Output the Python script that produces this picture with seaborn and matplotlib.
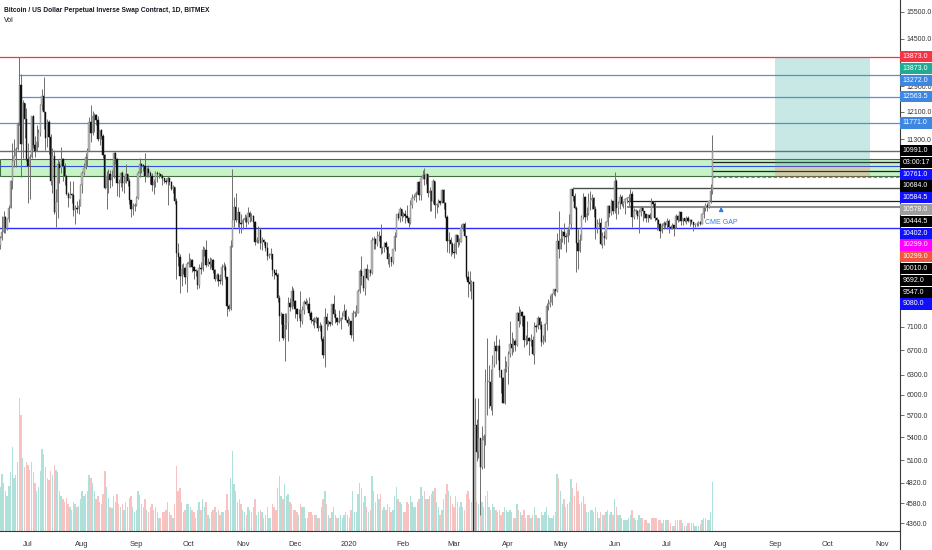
import matplotlib
matplotlib.use("Agg")
import matplotlib.pyplot as plt
import matplotlib.dates as mdates
from matplotlib.patches import Rectangle
from matplotlib.lines import Line2D
from matplotlib.ticker import FixedLocator, FormatStrFormatter, NullLocator
from matplotlib import font_manager
import numpy as np
import pandas as pd
import seaborn as sns

# ---- daily candles, XBTUSD 1D, from 2019-06-14 ----
START = "2019-06-14"
first_open = 8200

close_px = [
    8690, 8850, 8980, 9320, 9080, 9270, 9530, 10200, 10700, 10850, 11020, 11750, 12930, 11160, 12370, 11880, 10750,
    10590, 10810, 11970, 11150, 10980, 11240, 11480, 12300, 12570, 12100, 11350, 11800, 11360, 10200, 10850, 9430, 9680, 10630, 10530, 10760, 10590, 10330, 9880, 9770, 9880, 9840, 9480, 9530, 9500, 9590, 10080,
    10400, 10530, 10820, 10980, 11800, 11470, 11980, 11990, 11860, 11300, 11560, 11390, 10860, 10020, 10310, 10360, 10220, 10320, 10920, 10760, 10140, 10130, 10400, 10140, 10140, 10370, 10180, 9720, 9500, 9590, 9600,
    9760, 10390, 10620, 10590, 10580, 10320, 10490, 10400, 10330, 10100, 10160, 10400, 10360, 10360, 10310, 10270, 10190, 10160, 10280, 10170, 10000, 10050, 9700, 8530, 8430, 8060, 8190, 8210, 8040, 8300,
    8340, 8380, 8240, 8160, 8150, 7870, 8210, 8200, 8590, 8590, 8270, 8330, 8300, 8370, 8170, 8000, 8080, 7960, 7950, 8230, 8240, 8030, 7470, 7420, 8670, 9250, 9550, 9250, 9430, 9180, 9150,
    9260, 9300, 9200, 9410, 9310, 9340, 9200, 8770, 8810, 9030, 8730, 8810, 8760, 8630, 8460, 8490, 8500, 8180, 8120, 8080, 7620, 7290, 7320, 6910, 7130, 7160, 7530, 7450, 7760, 7570,
    7420, 7320, 7320, 7210, 7400, 7550, 7510, 7520, 7340, 7220, 7200, 7190, 7250, 7070, 7110, 6880, 6620, 7280, 7150, 7190, 7140, 7510, 7320, 7250, 7190, 7200, 7250, 7300, 7390, 7220, 7170,
    7200, 6960, 7340, 7350, 7350, 7760, 8160, 8050, 7820, 8190, 8020, 8180, 8110, 8810, 8820, 8720, 8900, 8900, 8630, 8630, 8730, 8660, 8390, 8430, 8330, 8600, 8900, 9390, 9290, 9500, 9350,
    9390, 9340, 9290, 9180, 9610, 9760, 9800, 9900, 10160, 9850, 10270, 10350, 10240, 10360, 9900, 9930, 9700, 10180, 9600, 9600, 9690, 9660, 9970, 9650, 9320, 8790, 8800, 8720, 8540,
    8530, 8920, 8760, 8760, 9070, 9160, 8900, 8040, 7940, 7900, 7940, 4250, 5560, 5200, 5390, 5010, 5360, 5410, 6190, 6190, 6190, 5830, 6470, 6770, 6690, 6760, 6370, 6250, 5880, 6400, 6420,
    6640, 6810, 6730, 6860, 6780, 7340, 7200, 7370, 7300, 6870, 6890, 6910, 6860, 6870, 6640, 7120, 7100, 7260, 7130, 6840, 6860, 7140, 7480, 7510, 7540, 7700, 7790, 7760, 8780, 8620,
    8830, 8970, 8900, 8880, 9030, 9150, 9990, 9810, 9540, 8730, 8560, 8810, 9310, 9790, 9320, 9380, 9680, 9730, 9780, 9510, 9060, 9170, 9180, 8720, 8900, 8840, 9200, 9580, 9420, 9700, 9450,
    10200, 9520, 9660, 9800, 9620, 9670, 9750, 9780, 9780, 9880, 9320, 9470, 9470, 9340, 9430, 9520, 9460, 9380, 9300, 9360, 9290, 9680, 9620, 9290, 9250, 9160, 9010, 9120, 9190, 9140,
    9230, 9090, 9060, 9130, 9080, 9340, 9250, 9430, 9240, 9290, 9240, 9300, 9240, 9250, 9200, 9130, 9150, 9170, 9210, 9160, 9390, 9540, 9600, 9550, 9710, 9930, 10991,
]

high_px = [
    8700, 8900, 9350, 9450, 9340, 9300, 9600, 10220, 11200, 11300, 11100, 11800, 13873, 13300, 12450, 12350, 12200,
    11200, 10900, 11980, 12000, 11400, 11700, 11600, 12350, 12800, 13200, 12100, 11900, 11850, 11450, 11050, 11000, 9980, 10750, 10700, 11080, 10800, 10650, 10340, 9920, 10180, 9900, 10180, 9600, 9700, 9750, 10120,
    10450, 10660, 10930, 11070, 11950, 12320, 12130, 12050, 12040, 11960, 11580, 11600, 11450, 10900, 10450, 10500, 10480, 10470, 10950, 10950, 10780, 10230, 10420, 10460, 10320, 10620, 10380, 10270, 9730, 9660, 9660,
    9820, 10440, 10800, 10650, 10630, 10920, 10550, 10600, 10450, 10390, 10250, 10450, 10440, 10420, 10380, 10370, 10280, 10270, 10320, 10280, 10180, 10090, 10050, 9770, 8740, 8500, 8290, 8320, 8230, 8330,
    8520, 8410, 8400, 8250, 8200, 8180, 8300, 8340, 8670, 8660, 8800, 8420, 8440, 8410, 8400, 8200, 8120, 8110, 8100, 8300, 8330, 8300, 8040, 7520, 8800, 10500, 9800, 9900, 9550, 9430, 9400,
    9290, 9380, 9370, 9550, 9450, 9420, 9370, 9220, 8870, 9110, 9060, 8880, 8830, 8770, 8760, 8530, 8640, 8500, 8200, 8200, 8120, 7680, 7360, 7330, 7350, 7350, 7650, 7620, 7860, 7820,
    7580, 7430, 7420, 7750, 7480, 7580, 7630, 7580, 7650, 7390, 7260, 7280, 7290, 7270, 7180, 7140, 6930, 7430, 7340, 7220, 7180, 7520, 7690, 7420, 7270, 7400, 7280, 7360, 7510, 7420, 7300,
    7250, 7210, 7400, 7390, 7500, 7800, 8200, 8460, 8060, 8200, 8290, 8190, 8190, 8880, 8900, 8840, 9000, 9000, 9170, 8660, 8770, 8780, 8670, 8520, 8440, 8610, 8980, 9400, 9430, 9560, 9510,
    9440, 9480, 9600, 9320, 9720, 9860, 9870, 9940, 10170, 10180, 10300, 10480, 10520, 10380, 10380, 10050, 9960, 10250, 10200, 9650, 9750, 9710, 9990, 10000, 9670, 9370, 8970, 8880, 8770,
    8740, 8940, 8920, 8840, 9150, 9180, 9200, 8900, 8160, 8150, 7970, 7960, 5950, 5650, 5950, 5380, 5550, 5440, 6400, 6900, 6450, 6400, 6620, 6850, 6950, 6790, 6880, 6280, 6260, 6600, 6520,
    6680, 7200, 7000, 6900, 6880, 7370, 7470, 7420, 7380, 7310, 6960, 7200, 6920, 6980, 6930, 7180, 7150, 7300, 7270, 7210, 6950, 7160, 7530, 7610, 7690, 7720, 7800, 7800, 8950, 9460,
    9050, 9000, 9190, 8950, 9100, 9380, 10000, 10050, 9900, 9570, 9040, 8930, 9370, 9890, 9810, 9560, 9890, 9950, 9880, 9800, 9570, 9270, 9300, 9300, 8980, 9010, 9220, 9610, 9600, 9740, 9700,
    10430, 10230, 9690, 9870, 9850, 9710, 9780, 9800, 9870, 9980, 9940, 9540, 9500, 9480, 9500, 9580, 9550, 9470, 9390, 9390, 9420, 9780, 9700, 9670, 9330, 9280, 9190, 9180, 9230, 9210,
    9300, 9270, 9130, 9190, 9140, 9380, 9360, 9470, 9440, 9300, 9300, 9340, 9340, 9280, 9270, 9210, 9180, 9200, 9230, 9220, 9420, 9560, 9660, 9640, 9730, 10110, 11420,
]

low_px = [
    8100, 8620, 8800, 8950, 8950, 9030, 9200, 9520, 10000, 10550, 10550, 11000, 11700, 10300, 10800, 11350, 10700,
    9650, 9750, 10800, 11050, 10830, 10980, 11100, 11400, 12150, 11600, 11000, 11100, 10900, 10100, 9900, 9380, 9100, 9300, 10150, 10400, 10200, 10100, 9850, 9550, 9760, 9650, 9350, 9160, 9420, 9400, 9580,
    9900, 10350, 10500, 10570, 10980, 11230, 11430, 11500, 11700, 11250, 11150, 11320, 10780, 9980, 9500, 9900, 10010, 10060, 10260, 10620, 9830, 9800, 10050, 9940, 9900, 10140, 10070, 9620, 9330, 9360, 9450,
    9570, 9740, 10300, 10400, 10450, 10170, 10300, 10300, 10120, 9950, 9880, 10040, 10160, 10280, 10270, 10100, 10140, 10120, 9600, 10080, 9970, 9900, 9620, 8000, 8260, 7720, 7850, 8100, 7900, 7730,
    8230, 8230, 8130, 8000, 8050, 7800, 7810, 8100, 8150, 8460, 8230, 8260, 8200, 8230, 8120, 7950, 7950, 7860, 7900, 7880, 8180, 8000, 7300, 7380, 7400, 8650, 9100, 9200, 9100, 8960, 8950,
    9050, 9200, 9100, 9150, 9200, 9240, 9100, 8700, 8740, 8740, 8620, 8580, 8700, 8560, 8370, 8420, 8400, 8050, 8000, 8050, 7540, 6850, 7140, 6870, 6515, 7060, 6860, 7380, 7420, 7480,
    7250, 7210, 7250, 7100, 7150, 7320, 7490, 7420, 7300, 7160, 7130, 7070, 7170, 7030, 7020, 6860, 6570, 6430, 7040, 7120, 7120, 7130, 7270, 7160, 7130, 7160, 7060, 7240, 7290, 7200, 7120,
    7150, 6900, 6850, 7270, 7300, 7340, 7720, 7880, 7760, 7680, 8000, 7980, 8060, 8100, 8600, 8620, 8680, 8780, 8500, 8520, 8550, 8600, 8300, 8240, 8260, 8300, 8570, 8880, 9250, 9210, 9230,
    9320, 9180, 9240, 9100, 9170, 9540, 9720, 9680, 9880, 9730, 9720, 10230, 10080, 10120, 9800, 9470, 9460, 9640, 9300, 9420, 9560, 9600, 9650, 9500, 9290, 8550, 8520, 8460, 8510,
    8420, 8500, 8650, 8700, 8750, 9000, 8860, 8000, 7640, 7750, 7600, 3900, 3600, 5090, 5120, 4450, 4990, 5000, 5300, 5700, 5800, 5770, 5700, 6420, 6480, 6540, 6260, 6020, 5870, 5860, 6340,
    6160, 6580, 6620, 6660, 6680, 6770, 7100, 7150, 7120, 6750, 6780, 6800, 6620, 6770, 6620, 6480, 7000, 7060, 7060, 6770, 6800, 6840, 7040, 7400, 7450, 7490, 7680, 7660, 7730, 8410,
    8620, 8770, 8720, 8540, 8750, 8920, 9050, 9700, 9500, 8140, 8200, 8540, 8800, 9270, 9200, 9250, 9360, 9480, 9500, 9310, 8820, 8960, 9100, 8700, 8640, 8700, 8820, 9110, 9330, 9370, 9400,
    9420, 9270, 9390, 9500, 9580, 9530, 9380, 9640, 9570, 9700, 9100, 9280, 9380, 9270, 8950, 9350, 9230, 9300, 9200, 9200, 9270, 9280, 9560, 9240, 9020, 9070, 8850, 8950, 9040, 9080,
    9050, 8950, 9040, 9050, 8900, 9060, 9200, 9230, 9140, 9130, 9200, 9170, 9200, 9110, 9160, 9000, 9090, 9120, 9120, 9140, 9150, 9290, 9470, 9460, 9530, 9650, 9880,
]

# relative volume (tallest bar = 100)
volume = [
    38, 33, 43, 36, 30, 26, 34, 44, 63, 40, 42, 52, 100, 87, 55, 48, 52,
    50, 46, 52, 44, 36, 30, 33, 45, 62, 58, 48, 40, 38, 45, 42, 50, 46, 44, 30, 26, 24, 22, 25, 20, 18, 16, 22, 20, 18, 19, 24,
    30, 26, 28, 30, 42, 40, 36, 30, 24, 26, 22, 20, 28, 45, 33, 25, 18, 17, 26, 22, 28, 20, 18, 20, 16, 22, 18, 25, 26, 18, 14,
    16, 30, 27, 20, 18, 24, 16, 14, 18, 20, 16, 18, 14, 10, 10, 14, 14, 16, 22, 14, 12, 10, 20, 49, 30, 32, 22, 14, 16, 20,
    20, 18, 16, 14, 10, 16, 22, 16, 24, 18, 22, 12, 10, 14, 16, 18, 14, 16, 12, 14, 14, 16, 28, 16, 40, 60, 35, 30, 22, 24, 20,
    16, 14, 12, 18, 16, 14, 18, 24, 12, 14, 16, 14, 10, 12, 18, 10, 10, 20, 18, 16, 32, 41, 26, 24, 35, 26, 28, 22, 20, 16,
    16, 14, 12, 20, 18, 18, 10, 10, 14, 14, 12, 12, 12, 10, 10, 18, 24, 30, 20, 12, 10, 14, 18, 12, 10, 10, 12, 10, 12, 14, 12,
    10, 16, 30, 14, 14, 28, 36, 32, 22, 26, 18, 14, 16, 41, 30, 22, 28, 24, 28, 16, 18, 16, 20, 18, 14, 16, 26, 33, 24, 22, 20,
    14, 14, 22, 20, 26, 22, 18, 18, 22, 24, 33, 26, 30, 24, 24, 26, 28, 30, 32, 22, 18, 12, 16, 24, 28, 35, 30, 26, 20,
    18, 26, 22, 18, 22, 18, 16, 28, 30, 24, 22, 30, 33, 22, 20, 26, 22, 18, 26, 30, 18, 16, 20, 18, 16, 14, 16, 12, 14, 18, 16,
    14, 16, 14, 10, 10, 20, 16, 14, 12, 16, 10, 12, 12, 10, 12, 18, 12, 10, 10, 14, 12, 14, 18, 12, 10, 10, 12, 14, 43, 40,
    30, 20, 24, 18, 20, 22, 39, 32, 26, 36, 30, 20, 22, 26, 20, 14, 14, 16, 16, 14, 18, 14, 10, 14, 12, 12, 14, 16, 12, 14, 12,
    24, 18, 12, 12, 10, 8, 8, 8, 10, 12, 16, 10, 8, 8, 12, 10, 10, 8, 8, 6, 6, 10, 10, 10, 10, 8, 8, 6, 8, 8,
    8, 8, 6, 4, 4, 8, 8, 8, 8, 6, 4, 4, 6, 6, 6, 6, 4, 4, 4, 5, 8, 10, 10, 8, 8, 14, 37,
]

# horizontal levels drawn on the chart
level_price = [13873.0, 13272.0, 12563.5, 11771.0, 10991.0, 10584.5, 10684.0, 10444.5, 10299.0, 10010.0, 9692.0, 9547.0, 9080.0]
level_start = ["2019-06-10", "2019-06-26", "2019-06-26", "2019-06-10", "2019-06-10", "2019-06-10", "2020-07-27", "2020-07-27",
               "2020-07-27", "2020-05-08", "2020-06-08", "2020-06-08", "2019-06-10"]
zone_top, zone_bottom = 10761.0, 10330.0

# long position tool
pos_target, pos_entry, pos_stop = 13873.0, 10578.0, 10299.0
pos_from, pos_to = "2020-09-01", "2020-10-25"

# boxed price labels on the scale
label_text = ["13873.0", "13873.0", "13272.0", "12563.5", "11771.0", "10991.0", "03:00:17", "10761.0", "10684.0", "10584.5",
              "10578.0", "10444.5", "10402.0", "10299.0", "10299.0", "10010.0", "9692.0", "9547.0", "9080.0"]
label_price = [13873.0, 13873.0, 13272.0, 12563.5, 11771.0, 10991.0, 10991.0, 10761.0, 10684.0, 10584.5,
               10578.0, 10444.5, 10402.0, 10299.0, 10299.0, 10010.0, 9692.0, 9547.0, 9080.0]

y_ticks = [15500, 14500, 12900, 12100, 11300, 7100, 6700, 6300, 6000, 5700, 5400, 5100, 4820, 4580, 4360]

assert len(close_px) == len(high_px) == len(low_px) == len(volume)


def main():
    sns.set_theme(style="white")
    names = {f.name for f in font_manager.fontManager.ttflist}
    font = "Liberation Sans Narrow" if "Liberation Sans Narrow" in names else "Liberation Sans"
    plt.rcParams["font.family"] = [font, "DejaVu Sans"]
    fs = 6.2 if font == "Liberation Sans Narrow" else 5.0

    dates = pd.date_range(START, periods=len(close_px), freq="D")
    x = mdates.date2num(dates)
    c = np.array(close_px, dtype=float)
    o = np.concatenate([[first_open], c[:-1]])
    h = np.maximum(np.array(high_px, dtype=float), np.maximum(o, c))
    l = np.minimum(np.array(low_px, dtype=float), np.minimum(o, c))
    up = c >= o

    fig = plt.figure(figsize=(9.32, 5.5), dpi=100)
    ax = fig.add_axes([0, 19 / 550, 900 / 932, 531 / 550])
    axv = ax.twinx()
    ax.set_zorder(axv.get_zorder() + 1)
    ax.patch.set_visible(False)

    # volume
    axv.bar(x, volume, width=0.8, color=np.where(up, "#b0e0da", "#f7c2c2"), linewidth=0)
    axv.set_ylim(0, 100 * 531 / 133)
    axv.set_axis_off()

    # price scale
    ax.set_yscale("log")
    x_left = mdates.date2num(pd.Timestamp("2019-06-14 23:00"))
    x_right = x_left + 900 / 1.746
    ax.set_xlim(x_left, x_right)
    ax.set_ylim(4277, 15968)

    # levels and zones
    ax.axhspan(zone_bottom, zone_top, facecolor="#c6f2c6", edgecolor="#3f6f3f", linewidth=0.8, zorder=1)
    level_color = ["#f23645", "#5b8fd8", "#5b8fd8", "#5b8fd8", "#6b6b6b", "#2f4fe0", "#222222", "#222222",
                   "#e040fb", "#4d4d4d", "#222222", "#8a8a8a", "#2b2bff"]
    level_width = [0.9, 0.9, 0.9, 0.9, 1.0, 0.8, 0.9, 0.9, 0.8, 1.0, 0.9, 1.5, 1.0]
    for p, s, col, lw in zip(level_price, level_start, level_color, level_width):
        ls = (0, (3, 2)) if col == "#e040fb" else "-"
        ax.hlines(p, mdates.date2num(pd.Timestamp(s)), x_right, colors=col, linewidth=lw, linestyle=ls, zorder=2)

    px0, px1 = mdates.date2num(pd.Timestamp(pos_from)), mdates.date2num(pd.Timestamp(pos_to))
    ax.add_patch(Rectangle((px0, pos_entry), px1 - px0, pos_target - pos_entry,
                           facecolor="#26a69a", alpha=0.25, edgecolor="none", zorder=2.5))
    ax.add_patch(Rectangle((px0, pos_stop), px1 - px0, pos_entry - pos_stop,
                           facecolor="#ef5350", alpha=0.22, edgecolor="none", zorder=2.5))

    # candles
    ax.vlines(x, l, h, colors="#6f6f6f", linewidth=0.7, zorder=3)
    body_lo = np.minimum(o, c)
    body_h = np.maximum(np.abs(c - o), body_lo * 0.002)
    ax.bar(x, body_h, bottom=body_lo, width=0.75, color=np.where(up, "#b8b8b8", "#111111"),
           edgecolor=np.where(up, "#7d7d7d", "#111111"), linewidth=0.3, zorder=4)

    # CME gap note
    gx = mdates.date2num(pd.Timestamp("2020-08-01"))
    ax.annotate("CME GAP", xy=(gx, 9560), xytext=(gx, 9200), ha="center", va="center",
                fontsize=fs, color="#2f7fe8", zorder=6,
                arrowprops=dict(arrowstyle="-|>", color="#2f7fe8", lw=0.9, mutation_scale=6, shrinkA=4, shrinkB=0))

    # axes styling
    ax.yaxis.tick_right()
    ax.yaxis.set_major_locator(FixedLocator(y_ticks))
    ax.yaxis.set_minor_locator(NullLocator())
    ax.yaxis.set_major_formatter(FormatStrFormatter("%.1f"))
    month_ticks = pd.date_range("2019-07-01", "2020-11-01", freq="MS")
    ax.xaxis.set_major_locator(FixedLocator(mdates.date2num(month_ticks)))
    ax.set_xticklabels([str(d.year) if d.month == 1 else d.strftime("%b") for d in month_ticks])
    ax.tick_params(axis="both", length=3, width=0.6, color="#555555", labelsize=fs, labelcolor="#333333", pad=1.5)
    ax.tick_params(axis="x", pad=4, labelsize=fs + 0.4)
    for side in ["top", "left"]:
        ax.spines[side].set_visible(False)
    for side in ["right", "bottom"]:
        ax.spines[side].set_color("#3a3a3a")
        ax.spines[side].set_linewidth(0.8)
    ax.grid(False)
    fig.add_artist(Line2D([900 / 932, 900 / 932], [0, 19 / 550], transform=fig.transFigure, color="#3a3a3a", lw=0.8))

    # boxed labels, stacked downwards so they never overlap
    label_color = ["#f23645", "#22ab94", "#3f86e0", "#3f86e0", "#3f86e0", "#000000", "#000000", "#1010ff", "#000000",
                   "#1010ff", "#9e9e9e", "#000000", "#1010ff", "#ff00ff", "#f0553e", "#000000", "#000000", "#000000", "#1010ff"]
    prev = None
    for txt, p, col in zip(label_text, label_price, label_color):
        y = ax.transData.transform((x[0], p))[1]
        if prev is not None:
            y = min(y, prev - 11.8)
        prev = y
        fig.add_artist(Rectangle((900 / 932, (y - 5.6) / 550), 32 / 932, 11.2 / 550, transform=fig.transFigure,
                                 facecolor=col, edgecolor="none", zorder=5))
        fig.text(902.5 / 932, y / 550, txt, color="white", fontsize=fs, va="center", ha="left", zorder=6)

    fig.text(4 / 932, 1 - 11 / 550, "Bitcoin / US Dollar Perpetual Inverse Swap Contract, 1D, BITMEX",
             fontsize=fs - 0.2, weight="bold", color="#131722", va="center")
    fig.text(4 / 932, 1 - 21 / 550, "Vol", fontsize=fs, color="#131722", va="center")

    fig.savefig("out.png", dpi=100, facecolor="white")


if __name__ == "__main__":
    main()
